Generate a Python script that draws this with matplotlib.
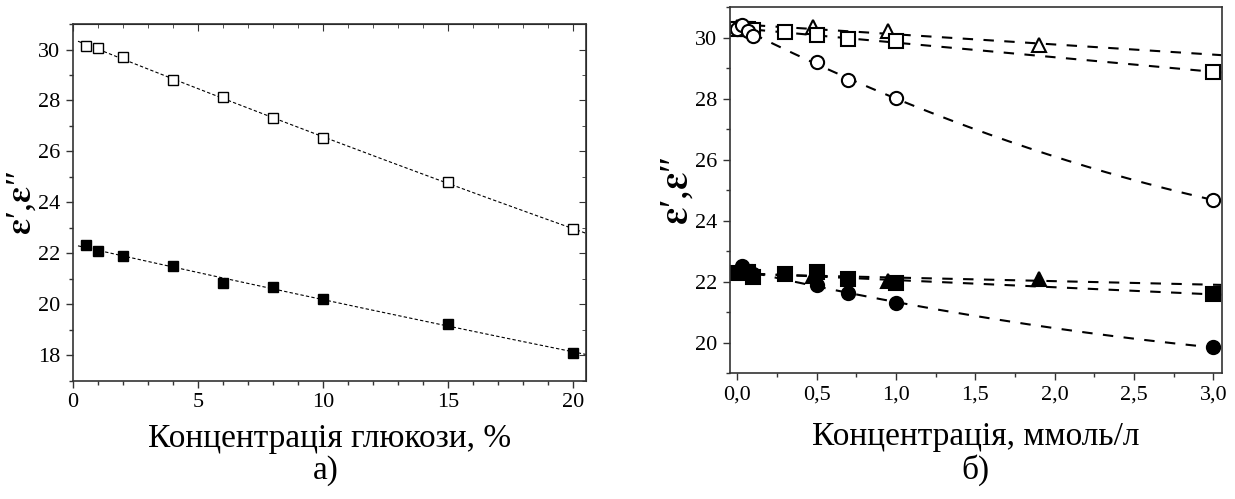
import numpy as np
import matplotlib
matplotlib.use("Agg")
import matplotlib.pyplot as plt
from matplotlib.ticker import MultipleLocator

plt.rcParams['font.family'] = ['Liberation Serif', 'DejaVu Serif']
plt.rcParams['mathtext.fontset'] = 'stix'

# ---- data, panel a) ----
glu_x = [0.5, 1, 2, 4, 6, 8, 10, 15, 20]
glu_eps1 = [30.13, 30.05, 29.7, 28.8, 28.12, 27.3, 26.52, 24.8, 22.95]
glu_eps2 = [22.32, 22.08, 21.9, 21.5, 20.85, 20.67, 20.22, 19.22, 18.1]

# ---- data, panel б) ----
circ_x = [0.0, 0.03, 0.07, 0.1, 0.5, 0.7, 1.0, 3.0]
circ_eps1 = [30.3, 30.44, 30.24, 30.05, 29.2, 28.62, 28.02, 24.68]
circ_eps2 = [22.3, 22.52, 22.32, 22.25, 21.9, 21.64, 21.29, 19.84]

sq_x = [0.0, 0.05, 0.07, 0.1, 0.3, 0.5, 0.7, 1.0, 3.0]
sq_eps1 = [30.3, 30.3, 30.3, 30.25, 30.18, 30.1, 29.98, 29.9, 28.87]
sq_eps2 = [22.28, 22.3, 22.3, 22.14, 22.25, 22.3, 22.1, 21.97, 21.59]

tri_x = [0.0, 0.48, 0.95, 1.9]
tri_eps1 = [30.36, 30.36, 30.22, 29.76]
tri_eps2 = [22.3, 22.2, 22.03, 22.08]

b_xticks = [0.0, 0.5, 1.0, 1.5, 2.0, 2.5, 3.0]
b_xticklabels = ["0,0", "0,5", "1,0", "1,5", "2,0", "2,5", "3,0"]

ylab = r"$\boldsymbol{\varepsilon}$" + "\u2032," + r"$\boldsymbol{\varepsilon}$" + "\u2033"


def fit_line(ax, x, y, x0, x1, deg, **kw):
    c = np.polyfit(x, y, deg)
    xx = np.linspace(x0, x1, 200)
    ax.plot(xx, np.polyval(c, xx), color="black", **kw)


def style(ax, tick_fs, all_sides):
    for s in ax.spines.values():
        s.set_linewidth(1.2)
        s.set_color("#333333")
    ax.tick_params(which="both", direction="out", top=False, right=False,
                   labelsize=tick_fs, width=1.0, color="#333333", pad=4)
    ax.tick_params(which="major", length=5)
    ax.tick_params(which="minor", length=3)
    if all_sides:
        ax2 = ax.secondary_xaxis("top")
        ax2.set_xticks(ax.get_xticks(minor=False))
        ax2.xaxis.set_minor_locator(ax.xaxis.get_minor_locator())
        ax2.tick_params(which="both", direction="in", labeltop=False, color="#333333")
        ax2.tick_params(which="major", length=5)
        ax2.tick_params(which="minor", length=3)
        ax3 = ax.secondary_yaxis("right")
        ax3.set_yticks(ax.get_yticks(minor=False))
        ax3.yaxis.set_minor_locator(ax.yaxis.get_minor_locator())
        ax3.tick_params(which="both", direction="in", labelright=False, color="#333333")
        ax3.tick_params(which="major", length=5)
        ax3.tick_params(which="minor", length=3)


fig = plt.figure(figsize=(12.35, 4.99), dpi=100)

# ---- panel a) ----
ax = fig.add_axes([0.0591, 0.2365, 0.4154, 0.7154])
fit_line(ax, glu_x, glu_eps1, 0.2, 20.5, 2, lw=0.8, linestyle=(0, (3, 2)))
fit_line(ax, glu_x, glu_eps2, 0.2, 20.5, 2, lw=0.8, linestyle=(0, (3, 2)))
ax.plot(glu_x, glu_eps1, "s", ms=6.5, mfc="white", mec="black", mew=1.0)
ax.plot(glu_x, glu_eps2, "s", ms=6.5, mfc="black", mec="black", mew=1.0)
ax.set_xlim(0, 20.5)
ax.set_ylim(17, 31)
ax.set_xticks([0, 5, 10, 15, 20])
ax.set_yticks([18, 20, 22, 24, 26, 28, 30])
ax.xaxis.set_minor_locator(MultipleLocator(1))
ax.yaxis.set_minor_locator(MultipleLocator(1))
style(ax, 16, True)
ax.set_ylabel(ylab, fontsize=26, labelpad=0)
ax.set_xlabel("Концентрація глюкози, %", fontsize=24, labelpad=8)
fig.text(0.264, 0.057, "а)", fontsize=24, ha="center", va="center")

# ---- panel б) ----
bx = fig.add_axes([0.5911, 0.2525, 0.3984, 0.7325])
dash = dict(lw=1.5, linestyle=(0, (5, 5)))
fit_line(bx, tri_x, tri_eps1, -0.02, 3.05, 1, **dash)
fit_line(bx, sq_x, sq_eps1, -0.02, 3.05, 1, **dash)
fit_line(bx, circ_x, circ_eps1, -0.02, 3.05, 2, **dash)
fit_line(bx, tri_x, tri_eps2, -0.02, 3.05, 1, **dash)
fit_line(bx, sq_x, sq_eps2, -0.02, 3.05, 1, **dash)
fit_line(bx, circ_x, circ_eps2, -0.02, 3.05, 2, **dash)
mk = dict(ms=9.5, mec="black", mew=1.5, linestyle="none")
bx.plot(tri_x, tri_eps1, "^", mfc="white", **mk)
bx.plot(sq_x, sq_eps1, "s", mfc="white", **mk)
bx.plot(circ_x, circ_eps1, "o", mfc="white", **mk)
bx.plot(tri_x, tri_eps2, "^", mfc="black", **mk)
bx.plot(sq_x, sq_eps2, "s", mfc="black", **mk)
bx.plot(circ_x, circ_eps2, "o", mfc="black", **mk)
bx.set_xlim(-0.045, 3.055)
bx.set_ylim(19, 31)
bx.set_xticks(b_xticks)
bx.set_xticklabels(b_xticklabels)
bx.set_yticks([20, 22, 24, 26, 28, 30])
bx.xaxis.set_minor_locator(MultipleLocator(0.25))
bx.yaxis.set_minor_locator(MultipleLocator(1))
style(bx, 16, False)
bx.set_ylabel(ylab, fontsize=28, labelpad=0)
bx.set_xlabel("Концентрація, ммоль/л", fontsize=24, labelpad=12)
fig.text(0.79, 0.057, "б)", fontsize=24, ha="center", va="center")

fig.savefig("out.png", dpi=100)
